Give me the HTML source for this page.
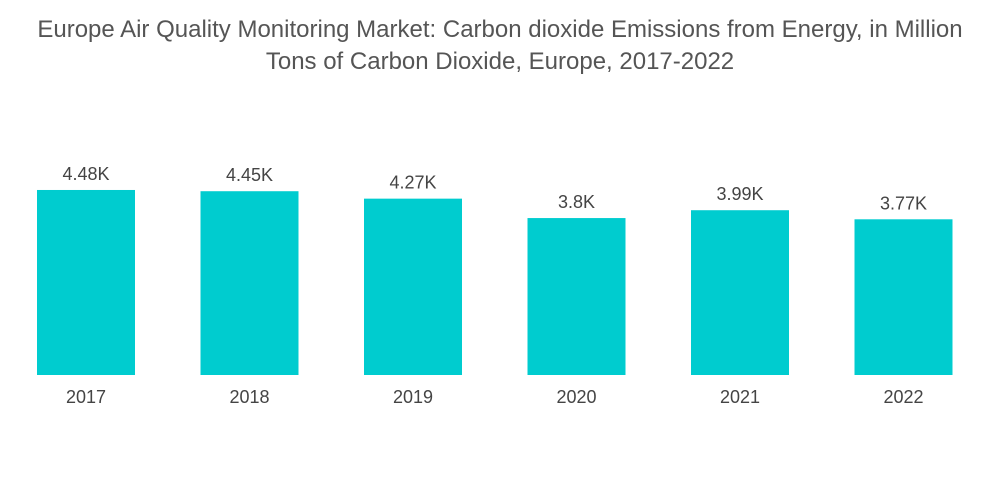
<!DOCTYPE html>
<html><head><meta charset="utf-8"><style>
body{margin:0;background:#fff;width:1000px;height:504px;overflow:hidden;font-family:"Liberation Sans",sans-serif}
.title{position:absolute;left:0;top:14px;width:1000px;text-align:center;font-size:24px;line-height:32px;color:#555;white-space:nowrap}
</style></head><body>
<div class="title">Europe Air Quality Monitoring Market: Carbon dioxide Emissions from Energy, in Million<br>Tons of Carbon Dioxide, Europe, 2017-2022</div>
<svg id="chart" width="1000" height="504" style="position:absolute;left:0;top:0"></svg>
<script>
const categories=["2017","2018","2019","2020","2021","2022"];
const values=[4.48,4.45,4.27,3.8,3.99,3.77];
const valueLabels=["4.48K","4.45K","4.27K","3.8K","3.99K","3.77K"];
const svg=document.getElementById('chart');
const NS='http://www.w3.org/2000/svg';
const base=375,pxPerUnit=41.3,left=37,step=163.5,bw=98;
const y=v=>base-v*pxPerUnit;
const x=i=>left+i*step;
categories.forEach((c,i)=>{
  const r=document.createElementNS(NS,'rect');
  r.setAttribute('x',x(i));r.setAttribute('y',y(values[i]));
  r.setAttribute('width',bw);r.setAttribute('height',base-y(values[i]));
  r.setAttribute('fill','#00cccf');
  
  
  svg.appendChild(r);
  const t=document.createElementNS(NS,'text');
  t.setAttribute('x',x(i)+bw/2);t.setAttribute('y',y(values[i])-10);
  t.setAttribute('text-anchor','middle');t.setAttribute('font-size','18');t.setAttribute('fill','#444');
  t.setAttribute('font-family','Liberation Sans, sans-serif');
  t.textContent=valueLabels[i];
  
  
  svg.appendChild(t);
  const l=document.createElementNS(NS,'text');
  l.setAttribute('x',x(i)+bw/2);l.setAttribute('y',403);
  l.setAttribute('text-anchor','middle');l.setAttribute('font-size','18');l.setAttribute('fill','#444');
  l.setAttribute('font-family','Liberation Sans, sans-serif');
  l.textContent=c;
  
  
  svg.appendChild(l);
});
</script>
</body></html>
